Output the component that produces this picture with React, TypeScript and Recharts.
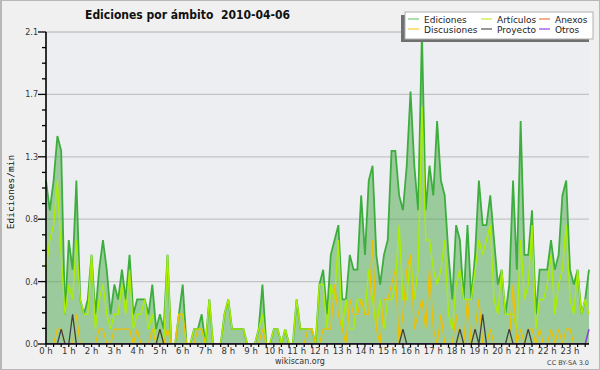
import { ComposedChart, Area, Line, XAxis, YAxis, CartesianGrid } from "recharts";

// edits per minute, one value every 10 minutes (144 per day)
const ediciones = [
  1.1, 0.9, 1.1, 1.4, 1.3, 0.2, 0.7, 0.5, 1.1, 0.3, 0.2, 0.3,
  0.6, 0.2, 0.5, 0.7, 0.5, 0.2, 0.4, 0.3, 0.5, 0.3, 0.6, 0.2,
  0.3, 0.3, 0.3, 0.2, 0.4, 0.1, 0.2, 0.1, 0.6, 0, 0, 0.2,
  0.4, 0, 0, 0.1, 0.1, 0.2, 0, 0.3, 0, 0, 0, 0.2,
  0.3, 0.1, 0.1, 0.1, 0.1, 0, 0, 0, 0.1, 0.4, 0, 0,
  0.1, 0.1, 0, 0.1, 0, 0, 0.3, 0.1, 0.1, 0.1, 0.1, 0,
  0.4, 0.5, 0.2, 0.6, 0.7, 0.8, 0.3, 0.3, 0.6, 0.5, 0.5, 1.0,
  0.6, 1.1, 1.2, 0.6, 0.4, 0.6, 0.7, 1.3, 1.3, 1.0, 0.9, 1.2,
  1.7, 1.2, 0.9, 2.1, 0.9, 1.2, 1.0, 1.5, 1.1, 1.0, 0.6, 0.3,
  0.8, 0.7, 0.3, 0.8, 0.3, 0.6, 1.1, 0.8, 0.8, 1.0, 0.7, 0.4,
  0.5, 0.2, 0.4, 1.1, 0.5, 1.5, 0.6, 0.6, 0.9, 0.2, 0.5, 0.5,
  0.5, 0.7, 0.5, 0.6, 1.0, 1.1, 0.5, 0.4, 0.5, 0.2, 0.3, 0.5,
];

const articulos = [
  0.5, 0.7, 0.8, 1.1, 0.6, 0.2, 0.4, 0.3, 0.7, 0.3, 0.2, 0.2,
  0.6, 0.1, 0.3, 0.4, 0.2, 0.1, 0.2, 0.2, 0.4, 0.2, 0.5, 0.1,
  0.2, 0.2, 0.3, 0.1, 0.2, 0, 0.1, 0, 0.6, 0, 0, 0.2,
  0.2, 0, 0, 0.1, 0.1, 0.1, 0, 0.3, 0, 0, 0, 0.2,
  0.3, 0.1, 0.1, 0.1, 0.1, 0, 0, 0, 0.1, 0.2, 0, 0,
  0.1, 0.1, 0, 0.1, 0, 0, 0.3, 0.1, 0.1, 0.1, 0.1, 0,
  0.4, 0.4, 0.1, 0.4, 0.3, 0.7, 0.1, 0.3, 0.1, 0.1, 0.3, 0.3,
  0.2, 0.5, 0.3, 0.1, 0.3, 0.1, 0.3, 0.3, 0.4, 0.8, 0.3, 0.3,
  0.6, 0.3, 0.5, 1.6, 0.7, 0.7, 0.5, 0.4, 0.5, 0.7, 0.2, 0.1,
  0.4, 0.5, 0.3, 0.3, 0.3, 0.5, 0.7, 0.6, 0.7, 0.8, 0.3, 0.2,
  0.5, 0.2, 0.2, 0.2, 0.1, 0.7, 0.3, 0.4, 0.8, 0.1, 0.3, 0.3,
  0.4, 0.6, 0.2, 0.4, 0.5, 0.8, 0.3, 0.2, 0.5, 0.2, 0.3, 0.2,
];

const discusiones = [
  0, 0, 0, 0.1, 0.1, 0, 0, 0, 0.2, 0, 0, 0,
  0, 0, 0.1, 0.1, 0, 0, 0.1, 0.1, 0.1, 0.1, 0.1, 0,
  0.1, 0, 0, 0, 0.1, 0, 0, 0, 0.1, 0, 0, 0.2,
  0.2, 0, 0, 0, 0.1, 0.1, 0, 0, 0, 0, 0, 0,
  0, 0, 0, 0, 0, 0, 0, 0, 0, 0.1, 0, 0,
  0, 0, 0, 0, 0, 0, 0, 0, 0, 0.1, 0.1, 0,
  0, 0.1, 0.1, 0.1, 0.4, 0.2, 0.1, 0, 0.3, 0.2, 0.2, 0.3,
  0.2, 0.2, 0.7, 0.1, 0, 0.3, 0.3, 0.4, 0.5, 0, 0.2, 0.5,
  0.6, 0.1, 0.2, 0.3, 0.1, 0.5, 0.1, 0, 0.2, 0, 0, 0,
  0.2, 0, 0, 0.3, 0, 0.1, 0.3, 0, 0, 0.1, 0, 0,
  0, 0, 0, 0.4, 0, 0.1, 0, 0.1, 0.1, 0, 0.1, 0,
  0, 0.1, 0, 0.1, 0, 0.1, 0.1, 0, 0, 0, 0, 0,
];

const proyecto = [
  0, 0, 0, 0, 0.1, 0, 0, 0.2, 0, 0, 0, 0,
  0, 0, 0, 0, 0, 0, 0, 0, 0, 0, 0, 0,
  0, 0, 0, 0, 0, 0, 0.1, 0, 0, 0, 0, 0,
  0, 0, 0, 0, 0, 0, 0, 0, 0, 0, 0, 0,
  0, 0, 0, 0, 0, 0, 0, 0, 0, 0, 0, 0,
  0, 0, 0, 0, 0, 0, 0, 0, 0, 0, 0, 0,
  0, 0, 0, 0, 0, 0, 0, 0, 0, 0, 0, 0,
  0, 0, 0, 0, 0, 0, 0, 0, 0, 0, 0.1, 0,
  0, 0, 0, 0, 0, 0, 0, 0, 0, 0, 0, 0,
  0, 0.1, 0, 0, 0, 0.1, 0, 0.2, 0, 0, 0, 0,
  0, 0, 0.1, 0, 0, 0, 0, 0.1, 0, 0, 0, 0,
  0, 0, 0, 0, 0, 0, 0, 0, 0, 0, 0, 0,
];

const anexos = [
  0, 0, 0, 0, 0, 0, 0, 0, 0, 0, 0, 0,
  0, 0, 0, 0, 0, 0, 0, 0, 0, 0, 0, 0,
  0, 0, 0, 0, 0, 0, 0, 0, 0, 0, 0, 0,
  0, 0, 0, 0, 0, 0, 0, 0, 0, 0, 0, 0,
  0, 0, 0, 0, 0, 0, 0, 0, 0, 0, 0, 0,
  0, 0, 0, 0, 0, 0, 0, 0, 0, 0, 0, 0,
  0, 0, 0, 0, 0, 0, 0, 0, 0, 0, 0, 0,
  0, 0, 0, 0, 0, 0, 0, 0, 0, 0, 0, 0,
  0, 0, 0, 0, 0, 0, 0, 0, 0, 0, 0, 0,
  0, 0, 0, 0, 0, 0, 0, 0, 0, 0, 0, 0,
  0, 0, 0, 0, 0, 0, 0, 0, 0, 0, 0, 0,
  0, 0, 0, 0, 0, 0, 0, 0, 0, 0, 0, 0,
];

const otros = [
  0, 0, 0, 0, 0, 0, 0, 0, 0, 0, 0, 0,
  0, 0, 0, 0, 0, 0, 0, 0, 0, 0, 0, 0,
  0, 0, 0, 0, 0, 0, 0, 0, 0, 0, 0, 0,
  0, 0, 0, 0, 0, 0, 0, 0, 0, 0, 0, 0,
  0, 0, 0, 0, 0, 0, 0, 0, 0, 0, 0, 0,
  0, 0, 0, 0, 0, 0, 0, 0, 0, 0, 0, 0,
  0, 0, 0, 0, 0, 0, 0, 0, 0, 0, 0, 0,
  0, 0, 0, 0, 0, 0, 0, 0, 0, 0, 0, 0,
  0, 0, 0, 0, 0, 0, 0, 0, 0, 0, 0, 0,
  0, 0, 0, 0, 0, 0, 0, 0, 0, 0, 0, 0,
  0, 0, 0, 0, 0, 0, 0, 0, 0, 0, 0, 0,
  0, 0, 0, 0, 0, 0, 0, 0, 0, 0, 0, 0.1,
];

const hourLabels = [
  "0 h", "1 h", "2 h", "3 h", "4 h", "5 h", "6 h", "7 h", "8 h", "9 h", "10 h", "11 h",
  "12 h", "13 h", "14 h", "15 h", "16 h", "17 h", "18 h", "19 h", "20 h", "21 h", "22 h", "23 h",
];

const yMajor = [0, 0.42, 0.84, 1.26, 1.68, 2.1];
const yMinor = Array.from({ length: 21 }, (_, k) => k * 0.105);
const xTicks = Array.from({ length: 72 }, (_, k) => k * 2);

const rows = ediciones.map((v, i) => ({
  t: i,
  ediciones: v,
  articulos: articulos[i],
  discusiones: discusiones[i],
  proyecto: proyecto[i],
  anexos: anexos[i],
  otros: otros[i],
}));

const legendItems = [
  { name: "Ediciones", color: "#80d080", x: 408, y: 19 },
  { name: "Artículos", color: "#c8f040", x: 481, y: 19 },
  { name: "Anexos", color: "#f08050", x: 539, y: 19 },
  { name: "Discusiones", color: "#f8d040", x: 408, y: 29 },
  { name: "Proyecto", color: "#606060", x: 481, y: 29 },
  { name: "Otros", color: "#a050f0", x: 539, y: 29 },
];

const AXIS_X = 46;
const FONT = "'DejaVu Sans', sans-serif";

const YTick = (props: any) => {
  const { y, payload } = props;
  const r = payload.value / 0.42;
  const major = Math.abs(r - Math.round(r)) < 1e-6;
  return (
    <g>
      <line x1={AXIS_X - (major ? 8 : 4)} x2={AXIS_X} y1={y} y2={y} stroke="#000" strokeWidth={1.3} />
      {major && (
        <text x={AXIS_X - 8} y={y} dy={3} textAnchor="end" fontSize={8} fontFamily={FONT} fill="#333">
          {payload.value.toFixed(1)}
        </text>
      )}
    </g>
  );
};

export default function App() {
  return (
    <div
      style={{
        position: "absolute",
        left: 0,
        top: 0,
        width: 600,
        height: 370,
        background: "#f0f0f0",
        boxSizing: "border-box",
        border: "1px solid #b8b8b8",
        borderLeftWidth: 2,
      }}
    >
      <div style={{ position: "absolute", left: -2, top: -1 }}>
        <ComposedChart width={600} height={370} data={rows} margin={{ top: 32, right: 11, bottom: 6, left: 0 }}>
          <CartesianGrid
            vertical={false}
            horizontalValues={yMajor.slice(1)}
            stroke="#c4c4c4"
            strokeWidth={1.3}
            fill="#eceef1"
          />
          <XAxis
            dataKey="t"
            type="number"
            domain={[0, 143]}
            ticks={xTicks}
            interval={0}
            tickFormatter={(v: number) => (v % 6 === 0 ? hourLabels[v / 6] : "")}
            tickSize={3}
            tickMargin={1}
            height={20}
            axisLine={{ stroke: "#000", strokeWidth: 1.6 }}
            tickLine={{ stroke: "#000", strokeWidth: 1.2 }}
            tick={{ fontSize: 8.5, fontFamily: FONT, fill: "#333" }}
          />
          <YAxis
            domain={[0, 2.1]}
            ticks={yMinor}
            interval={0}
            width={46}
            allowDataOverflow
            tickLine={false}
            axisLine={{ stroke: "#000", strokeWidth: 1.6 }}
            tick={(p: any) => <YTick {...p} />}
          />
          <Area
            dataKey="ediciones"
            type="linear"
            stroke="#3dae3d"
            strokeWidth={1.8}
            fill="#4aa84a"
            fillOpacity={0.5}
            dot={false}
            activeDot={false}
            isAnimationActive={false}
          />
          <Line dataKey="anexos" type="linear" stroke="#f08050" strokeWidth={1.3} dot={false} activeDot={false} isAnimationActive={false} />
          <Line dataKey="articulos" type="linear" stroke="#aaee00" strokeWidth={1.4} dot={false} activeDot={false} isAnimationActive={false} />
          <Line dataKey="discusiones" type="linear" stroke="#eec000" strokeWidth={1.3} dot={false} activeDot={false} isAnimationActive={false} />
          <Line dataKey="proyecto" type="linear" stroke="#404040" strokeWidth={1.3} dot={false} activeDot={false} isAnimationActive={false} />
          <Line dataKey="otros" type="linear" stroke="#8a3ee0" strokeWidth={1.5} dot={false} activeDot={false} isAnimationActive={false} />
        </ComposedChart>
      </div>
      <svg width={600} height={370} style={{ position: "absolute", left: -2, top: -1, pointerEvents: "none" }}>
        <text
          x={85}
          y={18.5}
          textLength={205}
          lengthAdjust="spacingAndGlyphs"
          fontSize={12}
          fontWeight="bold"
          fontFamily={FONT}
          fill="#111"
        >
          Ediciones por ámbito{"\u00a0\u00a0"}2010-04-06
        </text>
        <text
          x={10}
          y={192}
          transform="rotate(-90 10 192)"
          textAnchor="middle"
          dy={3.5}
          fontSize={9.5}
          fontFamily="'DejaVu Sans Mono', monospace"
          fill="#111"
        >
          Ediciones/min
        </text>
        <rect x={401} y={15} width={188} height={27} fill="#707070" />
        <rect x={405} y={12} width={188} height={27} fill="#ffffff" stroke="#b0b0b0" strokeWidth={1} />
        {legendItems.map((it) => (
          <g key={it.name}>
            <line x1={it.x} x2={it.x + 11} y1={it.y} y2={it.y} stroke={it.color} strokeWidth={1.3} />
            <text x={it.x + 16} y={it.y + 3.5} fontSize={9} fontFamily={FONT} fill="#222">
              {it.name}
            </text>
          </g>
        ))}
        <text x={300} y={364} textAnchor="middle" fontSize={8} fontFamily={FONT} fill="#333">
          wikiscan.org
        </text>
        <text x={589} y={364.5} textAnchor="end" fontSize={6.5} fontFamily={FONT} fill="#444">
          CC BY-SA 3.0
        </text>
      </svg>
    </div>
  );
}
